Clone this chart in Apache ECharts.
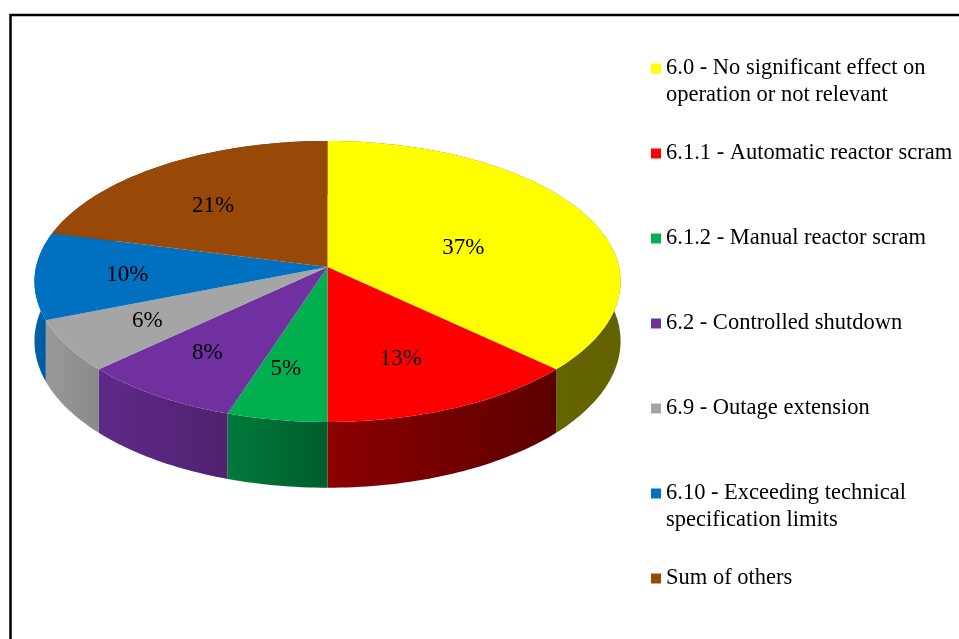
<!DOCTYPE html>
<html lang="en">
<head>
    <meta charset="UTF-8">
    <title>Events by category</title>
    <style>
        *{
            margin: 0;
            padding: 0;
        }
        html, body{
            width: 100%;
            height: 100%;
            background: #fff;
        }
        #pie{
            width: 959px;
            height: 639px;
        }
    </style>
</head>
<body>
<div id="pie"></div>
<script src="https://cdn.jsdelivr.net/npm/echarts@6/dist/echarts.min.js"></script>
<script>
    // data (percent)
    var categories = [
        '6.0 - No significant effect on\noperation or not relevant',
        '6.1.1 - Automatic reactor scram',
        '6.1.2 - Manual reactor scram',
        '6.2 - Controlled shutdown',
        '6.9 - Outage extension',
        '6.10 - Exceeding technical\nspecification limits',
        'Sum of others'
    ];
    var values = [37, 13, 5, 8, 6, 10, 21];

    var colors = ['#ffff00', '#ff0000', '#00b050', '#7030a0', '#a5a5a5', '#0070c0', '#984807'];
    var sideColors = [
        ['#6a6a00', '#626200'],
        ['#8c0000', '#5c0000'],
        ['#007a3c', '#005c2c'],
        ['#5e2a88', '#50226f'],
        ['#999999', '#8a8a8a'],
        ['#0062aa', '#005595'],
        ['#6e3405', '#5a2b04']
    ];

    // 3d look: tilted disc with a bit of perspective
    var cx = 327.5, cy = 267;
    var rx = 291.5, ry = 139;
    var persp = 0.103;
    var depth = 59;

    var total = 0;
    var starts = [];
    for (var i = 0; i < values.length; i++) {
        starts.push(total);
        total += values[i];
    }

    function project(a, r, h) {
        var u = Math.cos(a) * r, v = Math.sin(a) * r;
        var den = 1 + persp * v;
        return [cx + rx * u / den, cy + (-ry * v + h) / den];
    }

    function arcPoints(s0, s1, h) {
        var a0 = Math.PI / 2 - 2 * Math.PI * s0 / total;
        var a1 = Math.PI / 2 - 2 * Math.PI * s1 / total;
        var n = Math.max(4, Math.ceil(Math.abs(a1 - a0) / 0.02));
        var pts = [];
        for (var k = 0; k <= n; k++) {
            pts.push(project(a0 + (a1 - a0) * k / n, 1, h));
        }
        return pts;
    }

    function centroid(pts) {
        var A = 0, gx = 0, gy = 0;
        for (var k = 0; k < pts.length; k++) {
            var p = pts[k], q = pts[(k + 1) % pts.length];
            var c = p[0] * q[1] - q[0] * p[1];
            A += c;
            gx += (p[0] + q[0]) * c;
            gy += (p[1] + q[1]) * c;
        }
        return [gx / (3 * A), gy / (3 * A)];
    }

    function renderSlice(params, api) {
        var s0 = api.value(0), v = api.value(1);
        var idx = params.seriesIndex;
        var topArc = arcPoints(s0, s0 + v, 0);
        var botArc = arcPoints(s0, s0 + v, depth).reverse();
        var side = topArc.concat(botArc);
        var top = [[cx, cy]].concat(topArc);
        var c = centroid(top);
        return {
            type: 'group',
            children: [{
                type: 'polygon',
                z2: 1,
                shape: {points: side},
                style: {
                    fill: {
                        type: 'linear', x: 0, y: 0, x2: 1, y2: 0,
                        colorStops: [
                            {offset: 0, color: sideColors[idx][0]},
                            {offset: 1, color: sideColors[idx][1]}
                        ]
                    }
                }
            }, {
                type: 'polygon',
                z2: 10,
                shape: {points: top},
                style: {fill: colors[idx]}
            }, {
                type: 'text',
                z2: 20,
                x: c[0] - 8,
                y: c[1] + 1,
                style: {
                    text: v + '%',
                    fill: '#000',
                    font: '23px "Liberation Serif"',
                    align: 'center',
                    verticalAlign: 'middle'
                }
            }]
        };
    }

    var series = [];
    for (var j = 0; j < values.length; j++) {
        series.push({
            type: 'custom',
            name: categories[j],
            coordinateSystem: 'none',
            silent: true,
            itemStyle: {color: colors[j]},
            data: [[starts[j], values[j]]],
            renderItem: renderSlice
        });
    }

    var chart = echarts.init(document.getElementById('pie'));
    chart.setOption({
        animation: false,
        graphic: [{
            type: 'rect',
            shape: {x: 10.5, y: 15, width: 1000, height: 700},
            style: {fill: 'none', stroke: '#000', lineWidth: 2.5}
        }],
        legend: {
            orient: 'vertical',
            left: 651,
            top: 28,
            padding: 0,
            icon: 'rect',
            itemWidth: 10,
            itemHeight: 10,
            itemGap: 4,
            selectedMode: false,
            // pad every entry to three lines so the marker sits on the first text line
            formatter: function (name) {
                return ' \n' + name + (name.indexOf('\n') < 0 ? '\n ' : '');
            },
            textStyle: {
                fontFamily: 'Liberation Serif',
                fontSize: 22.5,
                lineHeight: 27,
                color: '#000'
            },
            data: categories
        },
        series: series
    });
</script>
</body>
</html>
